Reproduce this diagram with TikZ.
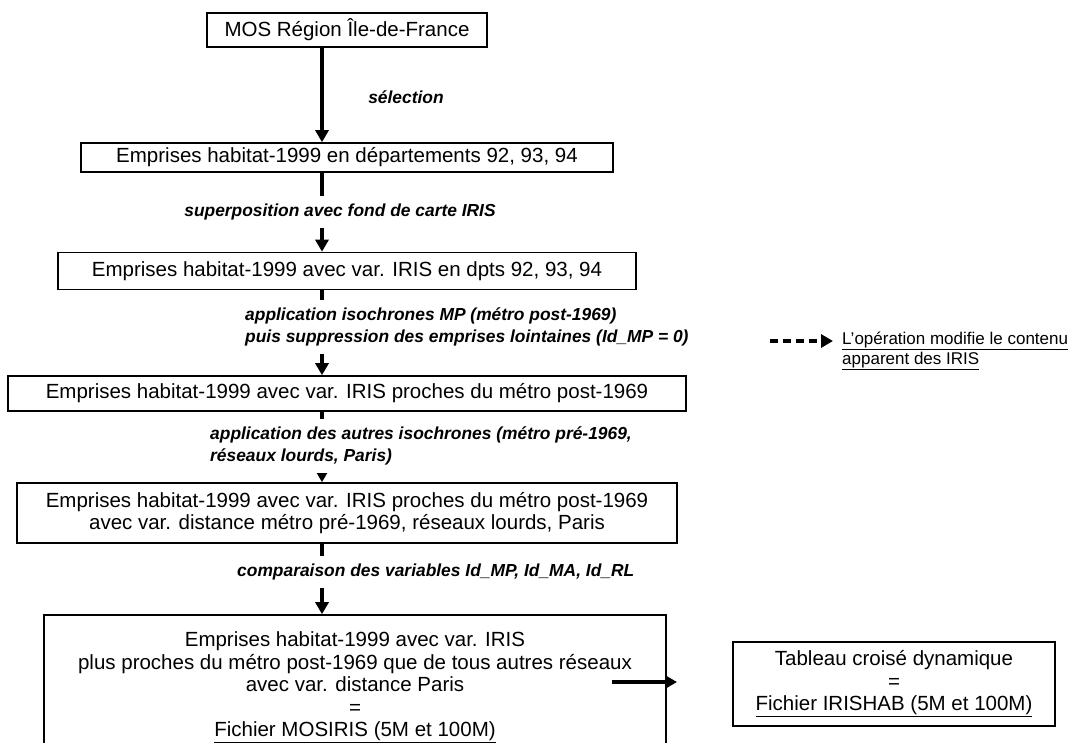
\documentclass[tikz,border=0pt]{standalone}
\usepackage{fontspec}
\setmainfont{Liberation Sans}
\usetikzlibrary{arrows.meta}
\newcommand{\boxsize}{\fontsize{20.5}{22.5}\selectfont}
\newcommand{\lblsize}{\fontsize{17.4}{22}\selectfont}
\begin{document}
\begin{tikzpicture}[x=1pt, y=-1pt,
  box/.style={draw, line width=1.6pt, align=center, inner sep=0pt, font=\boxsize},
  lbl/.style={fill=white, inner xsep=2pt, inner ysep=8pt, align=left, font=\lblsize\bfseries\itshape},
  flow/.style={line width=3.5pt, -{Triangle[length=12pt,width=13pt]}}]
\useasboundingbox (0,0) rectangle (1073,742);
\clip (0,0) rectangle (1073,742);
\coordinate (axis) at (322,0);
\node[box, minimum width=280pt, minimum height=34pt] (mos) at (347,30) {MOS Région Île-de-France};
\node[box, minimum width=532pt, minimum height=29pt] (dep) at (347,157.5) {Emprises habitat-1999 en départements 92, 93, 94};
\node[box, minimum width=578pt, minimum height=37pt] (iris) at (347,271) {Emprises habitat-1999 avec var. IRIS en dpts 92, 93, 94};
\node[box, minimum width=678pt, minimum height=35pt] (mp) at (347,393.5) {Emprises habitat-1999 avec var. IRIS proches du métro post-1969};
\node[box, minimum width=660pt, minimum height=60pt] (dist) at (347,513) {Emprises habitat-1999 avec var. IRIS proches du métro post-1969\\avec var. distance métro pré-1969, réseaux lourds, Paris};
\node[box, minimum width=622pt, minimum height=145pt] (mosiris) at (355,687.5) {Emprises habitat-1999 avec var. IRIS\\plus proches du métro post-1969 que de tous autres réseaux\\avec var. distance Paris\\=\\\underline{Fichier MOSIRIS (5M et 100M)}};
\node[box, minimum width=322pt, minimum height=84pt] (irishab) at (894,684) {Tableau croisé dynamique\\=\\\underline{Fichier IRISHAB (5M et 100M)}};
\coordinate (outS) at (612,682);
\coordinate (outE) at (677,682);
\coordinate (legS) at (770,341);
\coordinate (legE) at (833,341);
\draw[flow] (mos.south -| axis) -- (dep.north -| axis);
\draw[flow] (dep.south -| axis) -- (iris.north -| axis);
\draw[flow] (iris.south -| axis) -- (mp.north -| axis);
\draw[flow] (mp.south -| axis) -- (dist.north -| axis);
\draw[flow] (dist.south -| axis) -- (mosiris.north -| axis);
\draw[flow] (outS) -- (outE);
\draw[flow, dash pattern=on 8pt off 5pt] (legS) -- (legE);
\node[lbl] (sel) at (406,97) {sélection};
\node[lbl] (sup) at (340,212) {superposition avec fond de carte IRIS};
\node[lbl, anchor=west] (iso) at (243,327) {application isochrones MP (métro post-1969)\\puis suppression des emprises lointaines (Id\_MP = 0)};
\node[lbl, anchor=west] (autres) at (208,446) {application des autres isochrones (métro pré-1969,\\réseaux lourds, Paris)};
\node[lbl, anchor=west] (comp) at (235,572) {comparaison des variables Id\_MP, Id\_MA, Id\_RL};
\node[anchor=west, align=left, inner sep=0pt, font=\fontsize{17}{20}\selectfont] (leg) at (842,351) {\underline{L’opération modifie le contenu}\\\underline{apparent des IRIS}};
\end{tikzpicture}
\end{document}
